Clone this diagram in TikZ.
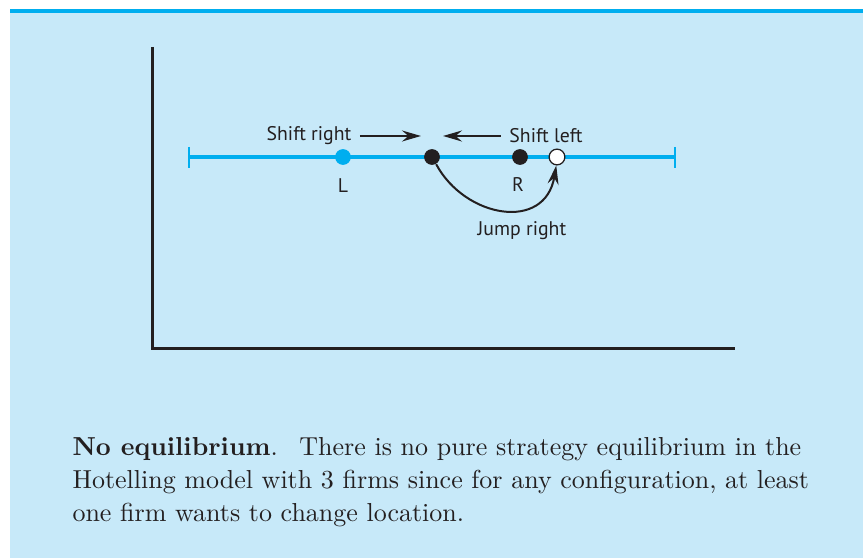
\documentclass[tikz,border=0pt]{standalone}
\usepackage{fontspec}
\newfontfamily\labelfont{PT Sans}
\usetikzlibrary{arrows.meta}
\definecolor{bgblue}{HTML}{C7E9F9}
\definecolor{stripe}{HTML}{00AEEF}
\definecolor{axisgray}{HTML}{231F20}
\tikzset{
  firm/.style={circle, inner sep=0pt, minimum size=6.3pt},
  blackfirm/.style={firm, fill=axisgray},
  bluefirm/.style={firm, fill=stripe},
  openfirm/.style={firm, fill=white, draw=axisgray, line width=0.5pt},
  lbl/.style={font=\labelfont\fontsize{7.9}{9}\selectfont, text=axisgray, inner sep=0pt},
  axisline/.style={draw=axisgray, line width=1.2pt},
  arr/.style={draw=axisgray, line width=0.8pt, -{Stealth[length=7.6pt,width=4.4pt,inset=2.6pt]}},
}
\begin{document}
\begin{tikzpicture}[x=0.4pt, y=-0.4pt]
\useasboundingbox (0,0) rectangle (863,558);
\fill[bgblue] (10,13) rectangle (863,558);
\fill[stripe] (10,9) rectangle (863,13.5);
% axes
\coordinate (top) at (153,47);
\coordinate (origin) at (153,349);
\coordinate (xend) at (735,349);
\draw[axisline] (top) -- (origin) -- (xend);
% market line
\coordinate (a) at (189,157);
\coordinate (b) at (675,157);
\draw[stripe, line width=1.6pt] (a) -- (b);
\draw[stripe, line width=0.8pt] (189,147) -- (189,168);
\draw[stripe, line width=0.8pt] (675,147) -- (675,168);
% firms
\node[bluefirm] (L) at (343,157) {};
\node[blackfirm] (M) at (432,157) {};
\node[blackfirm] (R) at (520,157) {};
\node[openfirm] (J) at (557,157) {};
\node[lbl] (Ll) at (343,186) {L};
\node[lbl] (Rl) at (518,185) {R};
% shifts
\node[lbl] (sr) at (309,136) {Shift right};
\coordinate (srend) at (421,136);
\path (sr.east) ++(8,0) coordinate (srstart);
\draw[arr] (srstart) -- (srend);
\node[lbl] (sl) at (546,136) {Shift left};
\coordinate (slend) at (443,136);
\path (sl.west) ++(-8,0) coordinate (slstart);
\draw[arr] (slstart) -- (slend);
% jump
\node[lbl] (jr) at (522,231) {Jump right};
\draw[arr] (M.-60) .. controls (465,218) and (545,232) .. (J.-95);
% caption
\node[anchor=north west, inner sep=0pt, align=left, text=axisgray,
      font=\fontsize{10.4}{13.2}\selectfont] (cap) at (72,437)
  {\textbf{No equilibrium}.\enspace\ There is no pure strategy equilibrium in the\\
   Hotelling model with 3 firms since for any configuration, at least\\
   one firm wants to change location.};
\end{tikzpicture}
\end{document}
